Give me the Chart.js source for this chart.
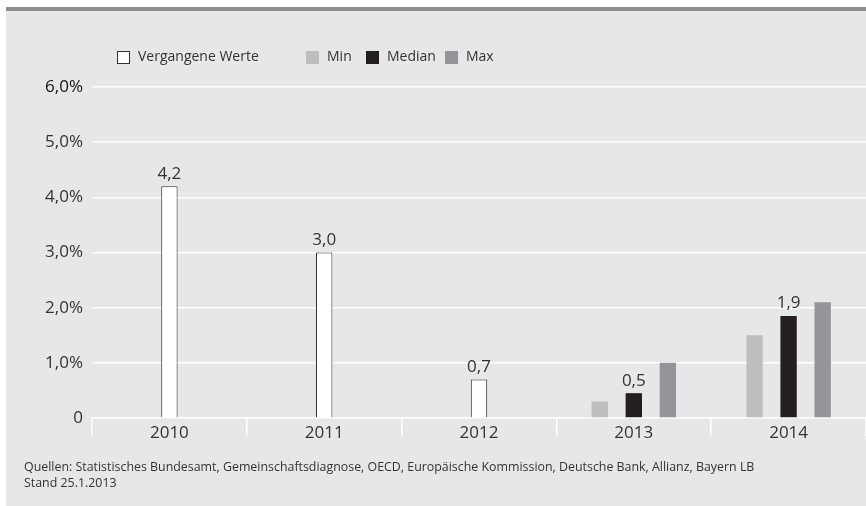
<!DOCTYPE html>
<html><head><meta charset="utf-8">
<script src="https://cdn.jsdelivr.net/npm/chart.js@4/dist/chart.umd.min.js"></script>
<style>html,body{margin:0;padding:0;background:#fff}#wrap{width:866px;height:506px;position:relative}</style>
</head><body><div id="wrap"><canvas id="c"></canvas></div>
<script>
// ---- data ----
const categories = ['2010', '2011', '2012', '2013', '2014'];
const pastValues   = [4.2, 3.0, 0.7, null, null];
const minValues    = [null, null, null, 0.3, 1.5];
const medianValues = [null, null, null, 0.45, 1.85];
const maxValues    = [null, null, null, 1.0, 2.1];
const yTickLabels  = ['0', '1,0%', '2,0%', '3,0%', '4,0%', '5,0%', '6,0%'];
const seriesNames  = ['Vergangene Werte', 'Min', 'Median', 'Max'];
const sourceLines  = [
  'Quellen: Statistisches Bundesamt, Gemeinschaftsdiagnose, OECD, Europäische Kommission, Deutsche Bank, Allianz, Bayern LB',
  'Stand 25.1.2013'
];

const FONT = "'Open Sans', sans-serif";
const TXT = '#333333';
const BG = '#e6e7e8';

const fmt = v => v.toFixed(1).replace('.', ',');

const bgPlugin = {
  id: 'bg',
  beforeDraw(chart) {
    const c = chart.ctx;
    c.save();
    c.fillStyle = '#ffffff';
    c.fillRect(0, 0, chart.width, chart.height);
    c.fillStyle = BG;
    c.fillRect(6, 11, chart.width - 6, chart.height - 11);
    c.fillStyle = '#8e8f91';
    c.fillRect(6, 7, chart.width - 6, 4);
    c.restore();
  },
  afterDraw(chart) {
    const c = chart.ctx;
    c.save();
    // legend
    const legendOrder = [1, 0, 2, 3]; // dataset indices in legend order
    const legendX = [117, 306, 366, 445];
    c.font = '14px ' + FONT;
    c.textBaseline = 'middle';
    legendOrder.forEach((di, k) => {
      const ds = chart.data.datasets[di];
      const x = legendX[k], y = 51;
      c.fillStyle = ds.backgroundColor;
      c.fillRect(x, y, 13, 13);
      if (ds.borderWidth) {
        c.strokeStyle = ds.borderColor;
        c.lineWidth = 1;
        c.strokeRect(x + 0.5, y + 0.5, 12, 12);
      }
      c.fillStyle = TXT;
      c.fillText(ds.label, x + 21, y + 6.5);
    });
    // sources
    c.font = '12.4px ' + FONT;
    c.fillStyle = TXT;
    c.textBaseline = 'middle';
    sourceLines.forEach((s, i) => c.fillText(s, 24, 467 + i * 16));
    c.restore();
  },
  afterDatasetsDraw(chart) {
    const c = chart.ctx;
    c.save();
    c.font = '17px ' + FONT;
    c.fillStyle = TXT;
    c.textAlign = 'center';
    c.textBaseline = 'bottom';
    [1, 2].forEach(di => {
      const meta = chart.getDatasetMeta(di);
      const data = chart.data.datasets[di].data;
      meta.data.forEach((el, i) => {
        const v = data[i];
        if (v === null || v === undefined) return;
        c.fillText(fmt(v), el.x, el.y - 4);
      });
    });
    c.restore();
  }
};

new Chart(document.getElementById('c'), {
  type: 'bar',
  data: {
    labels: categories,
    datasets: [
      { label: seriesNames[1], data: minValues, stack: 'a', backgroundColor: '#bdbec0', borderWidth: 0 },
      { label: seriesNames[0], data: pastValues, stack: 'b', backgroundColor: '#ffffff', borderColor: '#333333', borderWidth: 1 },
      { label: seriesNames[2], data: medianValues, stack: 'b', backgroundColor: '#231f20', borderWidth: 0 },
      { label: seriesNames[3], data: maxValues, stack: 'c', backgroundColor: '#949598', borderWidth: 0 }
    ]
  },
  options: {
    responsive: true,
    maintainAspectRatio: false,
    animation: false,
    categoryPercentage: 0.66,
    barPercentage: 0.48,
    layout: { padding: { top: 87, left: 0, right: 0, bottom: 0 } },
    plugins: { legend: { display: false }, tooltip: { enabled: false } },
    scales: {
      x: {
        stacked: true,
        border: { display: false },
        grid: { offset: true, drawOnChartArea: false, drawTicks: true, tickLength: 18, color: '#ffffff', lineWidth: 1.5 },
        ticks: { padding: -13, color: TXT, font: { family: FONT, size: 17 } },
        afterFit(s) { s.height = 88; }
      },
      y: {
        stacked: true,
        min: 0, max: 6,
        border: { display: false },
        grid: { color: '#ffffff', lineWidth: 1.5, drawTicks: false },
        ticks: {
          stepSize: 1, padding: 9,
          color: ctx => ctx.index === 6 ? '#111111' : TXT,
          font: { family: FONT, size: 17 },
          callback: (v, i) => yTickLabels[i]
        },
        afterFit(s) { s.width = 92; }
      }
    }
  },
  plugins: [bgPlugin]
});
</script>
</body></html>
